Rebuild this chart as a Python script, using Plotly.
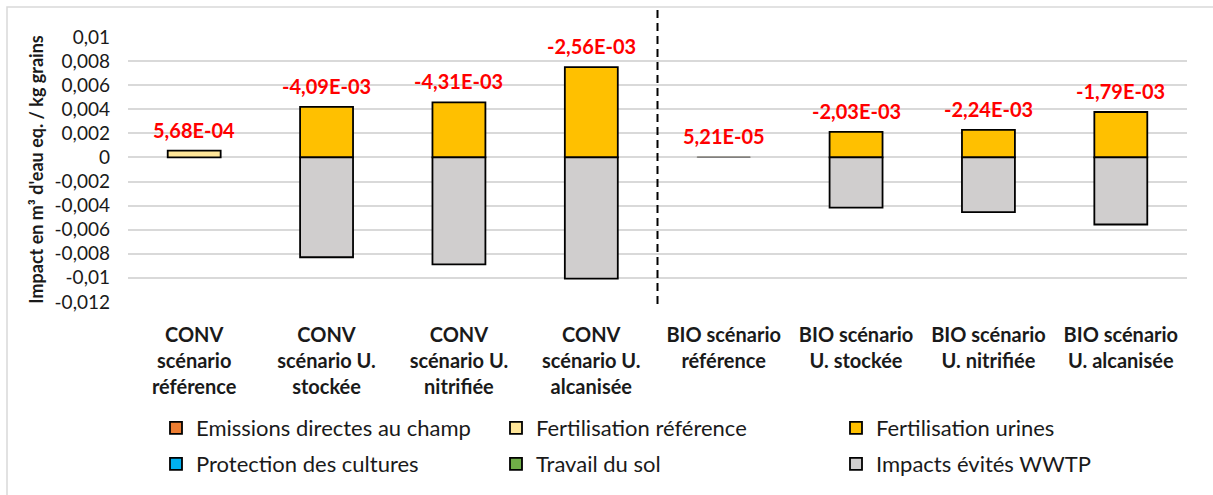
import plotly.graph_objects as go

categories = [
    "CONV<br>scénario<br>référence",
    "CONV<br>scénario U.<br>stockée",
    "CONV<br>scénario U.<br>nitrifiée",
    "CONV<br>scénario U.<br>alcanisée",
    "BIO scénario<br>référence",
    "BIO scénario<br>U. stockée",
    "BIO scénario<br>U. nitrifiée",
    "BIO scénario<br>U. alcanisée",
]

series_names = [
    "Emissions directes au champ",
    "Fertilisation référence",
    "Fertilisation urines",
    "Protection des cultures",
    "Travail du sol",
    "Impacts évités WWTP",
]

emissions_directes = [0, 0, 0, 0, 0, 0, 0, 0]
fertilisation_reference = [5.68e-4, 0, 0, 0, 5.21e-5, 0, 0, 0]
fertilisation_urines = [0, 0.00420, 0.00458, 0.00750, 0, 0.00213, 0.00230, 0.00378]
protection_cultures = [0, 0, 0, 0, 0, 0, 0, 0]
travail_sol = [0, 0, 0, 0, 0, 0, 0, 0]
impacts_evites_wwtp = [0, -0.00829, -0.00889, -0.01006, 0, -0.00416, -0.00454, -0.00557]

series_values = [
    emissions_directes,
    fertilisation_reference,
    fertilisation_urines,
    protection_cultures,
    travail_sol,
    impacts_evites_wwtp,
]
series_colors = ["#ED7D31", "#FFE699", "#FFC000", "#00B0F0", "#70AD47", "#D0CECE"]

ytick_vals = [0.01, 0.008, 0.006, 0.004, 0.002, 0, -0.002, -0.004, -0.006, -0.008, -0.01, -0.012]
ytick_text = ["0,01", "0,008", "0,006", "0,004", "0,002", "0", "-0,002", "-0,004",
              "-0,006", "-0,008", "-0,01", "-0,012"]

FONT = "Lato"
TXT = "#1a1a1a"

fig = go.Figure()
for i, (name, vals, col) in enumerate(zip(series_names, series_values, series_colors)):
    # zero contributions are not drawn; very thin bars get a thin grey outline
    yv = [v if v != 0 else None for v in vals]
    line_cols = ["#7F7F7F" if 0 < abs(v) < 1e-4 else "#000000" for v in vals]
    line_ws = [1.0 if 0 < abs(v) < 1e-4 else 1.8 for v in vals]
    fig.add_trace(go.Bar(
        x=categories, y=yv, name=name,
        marker=dict(color=col, line=dict(color=line_cols, width=line_ws)),
        legend="legend" if i < 3 else "legend2",
    ))

totals = [sum(s[j] for s in series_values) for j in range(len(categories))]
pos_tops = [sum(max(s[j], 0) for s in series_values) for j in range(len(categories))]

for cat, tot, top in zip(categories, totals, pos_tops):
    fig.add_annotation(
        x=cat, y=top, text=f"{tot:.2E}".replace(".", ","),
        showarrow=False, yanchor="middle", yshift=21,
        font=dict(family=FONT, size=20, color="#FF0000", weight="bold"),
    )

# plot area: left 128, right 1187, top 36.7, bottom 302.7
W, H = 1213, 495
ml, mr, mt, mb = 128, 26, 37, 192
pw = W - ml - mr
ph = H - mt - mb

def px_to_paper_x(px):
    return (px - ml) / pw

def px_to_paper_y(py):
    return (H - mb - py) / ph

fig.add_shape(type="rect", xref="paper", yref="paper",
              x0=px_to_paper_x(7), x1=px_to_paper_x(1230),
              y0=px_to_paper_y(520), y1=px_to_paper_y(7),
              line=dict(color="#D9D9D9", width=1.5), fillcolor="rgba(0,0,0,0)", layer="below")

fig.add_shape(type="line", xref="x", yref="paper",
              x0=3.5, x1=3.5, y0=px_to_paper_y(305), y1=px_to_paper_y(9),
              line=dict(color="#000000", width=2, dash="8px,5px"))

fig.update_layout(
    width=W, height=H, autosize=False,
    margin=dict(l=ml, r=mr, t=mt, b=mb),
    paper_bgcolor="white", plot_bgcolor="white",
    barmode="relative", bargap=0.6,
    font=dict(family=FONT, color=TXT),
    xaxis=dict(type="category", showgrid=False, showline=False, ticks="",
               tickfont=dict(family=FONT, size=20, color=TXT, weight="bold"),
               ticklabelstandoff=19, range=[-0.5, 7.5]),
    yaxis=dict(range=[-0.01201, 0.01001], tickvals=ytick_vals, ticktext=ytick_text,
               showgrid=True, gridcolor="#D9D9D9", gridwidth=1.5,
               zeroline=False, showline=False, ticks="",
               ticklabelstandoff=17,
               tickfont=dict(family=FONT, size=19, color=TXT),
               title=dict(text="Impact en m³ d'eau eq. / kg grains", standoff=6,
                          font=dict(family=FONT, size=18, color=TXT, weight="bold"))),
    legend=dict(orientation="h", x=px_to_paper_x(156), y=px_to_paper_y(428),
                xanchor="left", yanchor="middle", entrywidth=295, entrywidthmode="pixels",
                font=dict(family=FONT, size=22, color=TXT), bgcolor="rgba(0,0,0,0)",
                traceorder="normal"),
    legend2=dict(orientation="h", x=px_to_paper_x(156), y=px_to_paper_y(464),
                 xanchor="left", yanchor="middle", entrywidth=295, entrywidthmode="pixels",
                 font=dict(family=FONT, size=22, color=TXT), bgcolor="rgba(0,0,0,0)",
                 traceorder="normal"),
)

fig.write_html("out.html", config={"displayModeBar": False},
               post_script="document.body.style.margin='0';")
